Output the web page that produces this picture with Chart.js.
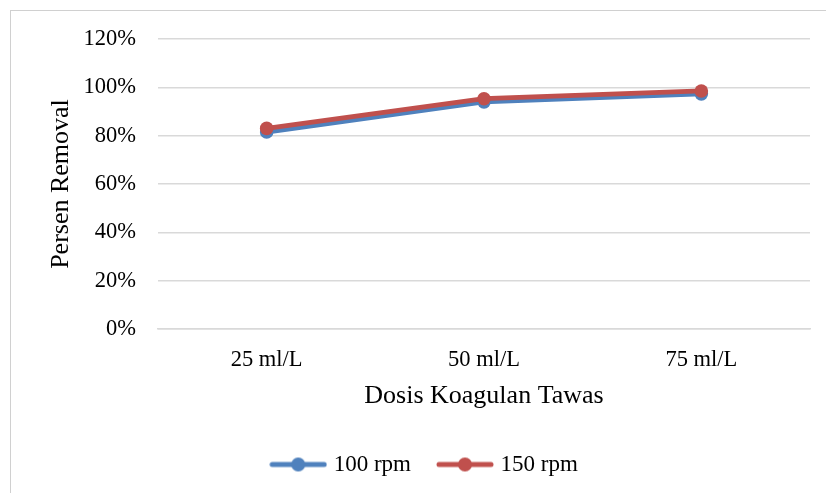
<!DOCTYPE html>
<html>
<head>
<meta charset="utf-8">
<script src="https://cdn.jsdelivr.net/npm/chart.js@4/dist/chart.umd.min.js"></script>
<style>
  body { margin: 0; background: #fff; }
  .wrap { position: relative; width: 826px; height: 493px; overflow: hidden; }
  .frame {
    position: absolute; left: 10px; top: 10px; width: 900px; height: 600px;
    border-left: 1px solid #d0d0d0; border-top: 1px solid #d0d0d0;
    pointer-events: none;
  }
</style>
</head>
<body>
<div class="wrap">
  <canvas id="removalChart" width="826" height="493"></canvas>
  <div class="frame"></div>
</div>
<script>
// data
const categories = ['25 ml/L', '50 ml/L', '75 ml/L'];
const seriesNames = ['100 rpm', '150 rpm'];
const rpm100 = [81.5, 94, 97.3];
const rpm150 = [83, 95.3, 98.5];
const yTicks = [0, 20, 40, 60, 80, 100, 120];

const BLUE = '#4f81bd';
const RED = '#c0504d';
const FONT = "'Liberation Serif', 'Times New Roman', serif";

// small line + dot icon for the legend
function legendIcon(color) {
  const c = document.createElement('canvas');
  c.width = 58;
  c.height = 16;
  const ctx = c.getContext('2d');
  ctx.strokeStyle = color;
  ctx.lineWidth = 5;
  ctx.lineCap = 'round';
  ctx.beginPath();
  ctx.moveTo(3, 8);
  ctx.lineTo(55, 8);
  ctx.stroke();
  ctx.fillStyle = color;
  ctx.beginPath();
  ctx.arc(29, 8, 7, 0, Math.PI * 2);
  ctx.fill();
  return c;
}

function makeDataset(label, values, color, order) {
  return {
    label: label,
    data: values,
    borderColor: color,
    backgroundColor: color,
    borderWidth: 4.8,
    pointRadius: 6.8,
    pointHoverRadius: 6.8,
    pointBorderWidth: 0,
    pointBackgroundColor: color,
    tension: 0,
    order: order,
  };
}

const ctx = document.getElementById('removalChart').getContext('2d');
new Chart(ctx, {
  type: 'line',
  data: {
    labels: categories,
    datasets: [
      makeDataset(seriesNames[0], rpm100, BLUE, 1),
      makeDataset(seriesNames[1], rpm150, RED, 0),
    ],
  },
  options: {
    responsive: false,
    animation: false,
    layout: { padding: { left: 42, right: 16, top: 39, bottom: 7 } },
    plugins: {
      tooltip: { enabled: false },
      legend: {
        position: 'bottom',
        labels: {
          usePointStyle: true,
          pointStyleWidth: 48,
          padding: 30,
          color: '#000',
          font: { family: FONT, size: 23 },
          generateLabels: function (chart) {
            return chart.data.datasets.map(function (ds, i) {
              return {
                text: ds.label,
                pointStyle: legendIcon(ds.borderColor),
                fillStyle: ds.borderColor,
                strokeStyle: ds.borderColor,
                lineWidth: 0,
                hidden: false,
                datasetIndex: i,
                fontColor: '#000',
              };
            });
          },
        },
      },
    },
    scales: {
      x: {
        offset: true,
        grid: { display: false, drawTicks: false },
        border: { display: true, color: '#d9d9d9', width: 1.5 },
        ticks: { color: '#000', padding: 18, font: { family: FONT, size: 22.5 } },
        title: {
          display: true,
          text: 'Dosis Koagulan Tawas',
          color: '#000',
          font: { family: FONT, size: 26 },
          padding: { top: 4, bottom: 11 },
        },
        afterFit: function (scale) {
          scale.height = 94;
        },
      },
      y: {
        min: 0,
        max: 120,
        afterBuildTicks: function (scale) {
          scale.ticks = yTicks.map(function (v) { return { value: v }; });
        },
        grid: { color: '#d9d9d9', lineWidth: 1.5, drawTicks: false },
        border: { display: false },
        ticks: {
          color: '#000',
          padding: 22,
          font: { family: FONT, size: 22.5 },
          callback: function (value) { return value + '%'; },
        },
        title: {
          display: true,
          text: 'Persen Removal',
          color: '#000',
          font: { family: FONT, size: 26 },
          padding: { top: 4, bottom: 4 },
        },
        afterFit: function (scale) {
          scale.width = 158 - 42;
        },
      },
    },
  },
});
</script>
</body>
</html>
